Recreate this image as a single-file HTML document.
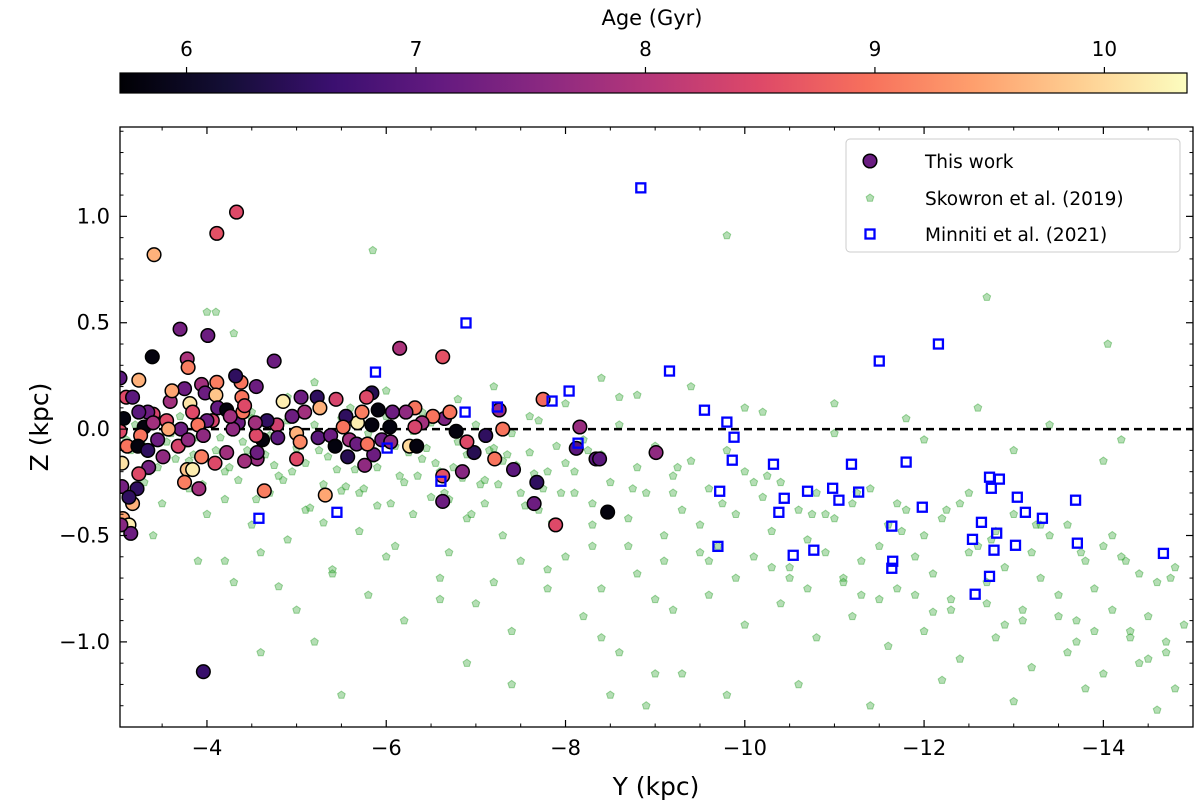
<!DOCTYPE html>
<html><head><meta charset="utf-8">
<style>
html,body{margin:0;padding:0;background:#fff;}
svg{display:block;font-family:"DejaVu Sans","Liberation Sans",sans-serif;}
</style></head>
<body>
<svg id="chart" width="1200" height="809" viewBox="0 0 1200 809" xmlns="http://www.w3.org/2000/svg">
<defs>
<linearGradient id="magma" x1="0" x2="1" y1="0" y2="0">
<stop offset="0" stop-color="#000004"/><stop offset="0.1" stop-color="#140e36"/><stop offset="0.2" stop-color="#3b0f70"/><stop offset="0.3" stop-color="#641a80"/><stop offset="0.4" stop-color="#8c2981"/><stop offset="0.5" stop-color="#b73779"/><stop offset="0.6" stop-color="#de4968"/><stop offset="0.7" stop-color="#f7705c"/><stop offset="0.8" stop-color="#fe9f6d"/><stop offset="0.9" stop-color="#fecf92"/><stop offset="1" stop-color="#fcfdbf"/>
</linearGradient>
<clipPath id="plotclip"><rect x="120" y="127" width="1073" height="600"/></clipPath>
</defs>
<g id="cbar"></g>
<g id="plot"></g>
<g id="axes"></g>
<g id="legend"></g>
</svg>
<script>
const ageTicks=[6,7,8,9,10];
const xTicks=[-4,-6,-8,-10,-12,-14];
const yTicks=[1.0,0.5,0.0,-0.5,-1.0];
const yTickLabels=["1.0","0.5","0.0","\u22120.5","\u22121.0"];
const xTickLabels=["\u22124","\u22126","\u22128","\u221210","\u221212","\u221214"];

const mnY=[-8.84,-9.16,-9.55,-9.80,-9.88,-9.86,-9.72,-9.70,-10.32,-10.44,-10.38,-10.70,-10.54,-10.77,-10.98,-11.05,-11.19,-11.27,-11.50,-11.80,-11.98,-11.64,-11.65,-11.64,-12.16,-12.73,-12.84,-12.75,-13.04,-13.13,-13.32,-13.69,-13.71,-14.67,-12.64,-12.54,-12.81,-12.78,-13.02,-12.73,-12.57,-6.89,-5.88,-6.88,-7.24,-7.85,-8.04,-8.14,-4.58,-5.45,-6.61,-6.01];
const mnZ=[1.134,0.273,0.089,0.033,-0.038,-0.146,-0.292,-0.551,-0.165,-0.325,-0.391,-0.292,-0.593,-0.569,-0.278,-0.334,-0.165,-0.296,0.32,-0.155,-0.367,-0.456,-0.621,-0.654,0.40,-0.226,-0.235,-0.278,-0.32,-0.391,-0.419,-0.334,-0.536,-0.584,-0.438,-0.518,-0.489,-0.569,-0.546,-0.692,-0.776,0.499,0.268,0.08,0.104,0.132,0.179,-0.066,-0.419,-0.391,-0.245,-0.089];

const twY=[-3.41,-4.11,-4.33,-3.70,-4.01,-3.39,-3.78,-3.79,-4.75,-6.15,-6.63,-7.75,-8.16,-8.12,-8.34,-7.89,-7.65,-7.68,-7.42,-7.21,-6.98,-7.11,-7.26,-7.30,-6.85,-6.63,-6.63,-6.90,-6.78,-6.65,-6.52,-6.71,-6.40,-6.32,-6.32,-6.22,-6.07,-6.04,-5.91,-5.84,-5.78,-5.84,-5.68,-5.73,-5.55,-5.44,-5.23,-5.05,-4.85,-5.26,-5.09,-4.95,-4.78,-5.00,-5.04,-5.24,-5.38,-5.52,-5.59,-5.67,-5.43,-5.57,-5.76,-5.86,-5.79,-5.95,-6.05,-6.26,-6.34,-5.00,-4.64,-5.32,-4.56,-4.42,-4.56,-4.62,-4.55,-4.67,-4.79,-4.54,-4.35,-4.29,-4.40,-4.39,-4.42,-4.38,-4.32,-4.55,-4.11,-3.94,-3.98,-4.10,-3.75,-3.59,-3.61,-3.81,-3.84,-4.12,-4.22,-4.26,-4.06,-4.00,-3.90,-3.71,-3.55,-3.40,-3.34,-3.24,-3.24,-3.10,-3.17,-3.03,-3.07,-3.30,-3.40,-3.57,-3.45,-3.26,-3.03,-3.11,-3.23,-3.34,-3.51,-3.68,-3.79,-3.96,-3.78,-3.84,-3.94,-4.09,-4.22,-3.75,-3.91,-3.35,-3.24,-3.05,-3.22,-3.05,-3.17,-3.13,-3.06,-3.13,-3.15,-3.04,-3.96,-8.47,-9.01,-8.38];
const twZ=[0.82,0.92,1.02,0.47,0.44,0.34,0.33,0.29,0.32,0.38,0.34,0.14,0.01,-0.09,-0.14,-0.45,-0.35,-0.25,-0.19,-0.14,-0.11,-0.03,0.09,0.00,-0.20,-0.34,-0.22,-0.06,-0.01,0.05,0.06,0.08,0.03,0.01,0.10,0.08,0.08,0.01,0.09,0.17,0.15,0.02,0.03,0.08,0.06,0.14,0.15,0.15,0.13,0.10,0.08,0.06,0.02,-0.02,-0.06,-0.04,-0.03,0.01,-0.05,-0.07,-0.08,-0.13,-0.17,-0.12,-0.07,-0.05,-0.06,-0.08,-0.08,-0.14,-0.29,-0.31,-0.14,-0.15,-0.11,-0.05,-0.03,0.04,-0.04,0.03,0.03,0.00,0.08,0.15,0.11,0.22,0.25,0.20,0.22,0.21,0.17,0.16,0.19,0.13,0.18,0.12,0.08,0.10,0.09,0.06,0.04,0.04,0.02,0.00,0.04,0.07,0.08,0.08,0.23,0.15,0.15,0.24,0.05,0.01,0.03,0.00,-0.05,-0.03,-0.01,-0.08,-0.08,-0.10,-0.13,-0.08,-0.05,-0.03,-0.19,-0.19,-0.13,-0.16,-0.11,-0.25,-0.28,-0.18,-0.21,-0.16,-0.28,-0.27,-0.35,-0.32,-0.42,-0.45,-0.49,-0.45,-1.14,-0.39,-0.11,-0.14];
const twAge=[9.6,8.6,8.5,7.3,7.2,5.8,7.9,9.1,7.2,7.9,8.6,8.9,7.7,7.0,7.0,8.5,7.2,6.5,7.0,9.0,6.4,6.5,7.7,9.0,7.5,7.2,8.6,8.5,5.8,7.4,9.0,9.0,7.8,8.4,9.0,7.6,7.2,5.8,5.8,6.4,8.5,5.8,10.2,9.1,6.5,8.4,6.5,7.2,10.2,9.6,7.8,7.2,8.3,9.6,9.2,7.0,7.2,9.0,7.8,7.2,5.8,6.4,7.6,7.2,9.0,7.2,7.6,10.0,5.8,8.5,9.1,9.5,7.7,7.8,7.2,5.8,8.5,6.5,7.0,7.8,7.2,7.6,9.0,9.0,8.5,9.0,6.5,7.2,9.1,7.8,7.2,9.8,7.2,7.8,9.5,10.1,8.5,7.1,5.8,7.8,8.4,7.2,9.0,7.2,8.5,8.4,7.2,7.0,9.6,8.5,7.0,7.0,5.8,5.8,7.8,9.5,7.2,9.0,8.5,9.0,5.8,6.5,7.6,8.4,7.6,7.6,9.8,10.2,9.1,8.5,7.8,9.1,7.8,7.3,8.5,10.1,6.5,7.3,9.6,6.5,9.5,10.2,7.2,7.5,6.6,5.8,7.6,7.0];

const skY=[-3.1,-3.2,-3.3,-3.4,-3.5,-3.6,-3.7,-3.8,-3.9,-4.0,-4.1,-4.2,-4.3,-4.4,-4.5,-4.6,-4.7,-4.8,-4.9,-5.0,-5.1,-5.2,-5.3,-5.4,-5.5,-5.6,-5.7,-5.8,-5.9,-6.0,-6.1,-6.2,-6.3,-6.4,-6.5,-6.6,-6.7,-6.8,-6.9,-7.0,-7.1,-7.2,-7.3,-7.4,-7.5,-7.6,-7.7,-7.8,-7.9,-8.0,
-3.3,-3.5,-3.8,-4.0,-4.2,-4.5,-4.7,-4.9,-5.1,-5.3,-5.5,-5.7,-5.9,-6.1,-6.3,-6.5,-6.7,-6.9,-7.1,-7.3,-7.5,-7.7,-7.9,-8.1,-8.3,
-3.4,-3.9,-4.3,-4.6,-5.0,-5.4,-5.8,-6.2,-6.6,-7.0,-7.4,-7.8,-8.2,-8.6,-9.0,
-3.6,-4.1,-4.5,-4.9,-5.2,-5.6,-6.0,-6.4,-6.8,-7.2,-7.6,-8.0,-8.4,-8.8,
-4.0,-4.1,-5.85,-9.8,-12.7,-14.05,-4.3,-4.6,-5.2,-5.5,-6.9,-7.4,-8.5,-8.9,-9.3,
-8.1,-8.3,-8.5,-8.7,-8.9,-9.1,-9.3,-9.5,-9.7,-9.9,-10.1,-10.3,-10.5,-10.7,-10.9,-11.1,-11.3,-11.5,-11.7,-11.9,-12.1,-12.3,-12.5,-12.7,-12.9,-13.1,-13.3,-13.5,-13.7,-13.9,-14.1,-14.3,-14.5,-14.7,-14.9,
-8.2,-8.4,-8.6,-8.8,-9.0,-9.2,-9.4,-9.6,-9.8,-10.0,-10.2,-10.4,-10.6,-10.8,-11.0,-11.2,-11.4,-11.6,-11.8,-12.0,-12.2,-12.4,-12.6,-12.8,-13.0,-13.2,-13.4,-13.6,-13.8,-14.0,-14.2,-14.4,-14.6,-14.8,
-8.0,-8.4,-8.8,-9.2,-9.6,-10.0,-10.4,-10.8,-11.2,-11.6,-12.0,-12.4,-12.8,-13.2,-13.6,-14.0,-14.4,-14.8,
-8.3,-8.7,-9.1,-9.5,-9.9,-10.3,-10.7,-11.1,-11.5,-11.9,-12.3,-12.7,-13.1,-13.5,-13.9,-14.3,-14.7,
-8.6,-9.4,-10.2,-11.0,-11.8,-12.6,-13.4,-14.2,-9.0,-9.8,-10.6,-11.4,-12.2,-13.0,-13.8,-14.6,
-8.25,-8.75,-9.25,-9.75,-10.25,-10.75,-11.25,-11.75,-12.25,-12.75,-13.25,-13.75,-14.25,-14.75,
-3.15,-3.45,-3.75,-4.05,-4.35,-4.65,-4.95,-5.25,-5.55,-5.85,-6.15,-6.45,-6.75,-7.05,-7.35,-7.65,-7.95,
-3.25,-3.55,-3.85,-4.15,-4.45,-4.75,-5.05,-5.35,-5.65,-5.95,-6.25,-6.55,-6.85,-7.15,-7.45,-7.75,
-3.35,-3.65,-3.95,-4.25,-4.55,-4.85,-5.15,-5.45,-5.75,-6.05,-6.35,-6.65,-6.95,-7.25,-7.55,-7.85,
-4.2,-4.8,-5.4,-6.0,-6.6,-7.2,-7.8,-8.4,-9.2,-10.1,-10.9,-11.7,-12.5,-13.3,-14.1,
-9.6,-10.5,-11.3,-12.1,-12.9,-13.7,-14.5,-10.0,-11.0,-12.0,-13.0,-14.0];
const skZ=[-0.05,0.02,-0.08,0.05,-0.12,-0.02,0.06,-0.15,-0.04,0.03,-0.10,-0.20,0.00,-0.06,0.08,-0.14,-0.03,-0.22,0.04,-0.09,-0.16,0.02,-0.26,-0.07,0.05,-0.12,-0.30,-0.02,-0.18,0.06,-0.08,-0.25,-0.01,-0.14,0.03,-0.20,-0.33,-0.06,-0.12,0.02,-0.24,-0.09,-0.15,-0.02,-0.30,-0.11,0.04,-0.20,-0.08,-0.16,
-0.25,-0.35,-0.28,-0.40,-0.33,-0.45,-0.30,-0.52,-0.38,-0.44,-0.29,-0.48,-0.36,-0.55,-0.40,-0.32,-0.58,-0.42,-0.35,-0.50,-0.62,-0.38,-0.45,-0.30,-0.55,
-0.50,-0.62,-0.72,-0.58,-0.85,-0.66,-0.78,-0.90,-0.70,-0.82,-0.95,-0.75,-0.88,-1.05,-0.80,
0.12,0.20,0.05,0.15,0.22,0.10,0.18,0.08,0.14,0.20,0.06,0.12,0.24,0.16,
0.55,0.55,0.84,0.91,0.62,0.40,0.45,-1.05,-1.0,-1.25,-1.10,-1.20,-1.25,-1.30,-1.15,
-0.20,-0.35,-0.25,-0.42,-0.30,-0.50,-0.38,-0.45,-0.55,-0.40,-0.60,-0.48,-0.65,-0.52,-0.58,-0.70,-0.62,-0.55,-0.75,-0.60,-0.68,-0.80,-0.58,-0.72,-0.65,-0.85,-0.70,-0.78,-0.90,-0.75,-0.85,-0.95,-0.88,-1.00,-0.92,
-0.05,-0.12,0.02,-0.18,-0.08,-0.22,-0.15,-0.28,-0.10,-0.20,-0.32,-0.25,-0.38,-0.30,-0.42,-0.35,-0.28,-0.45,-0.38,-0.50,-0.42,-0.35,-0.55,-0.48,-0.40,-0.58,-0.50,-0.45,-0.62,-0.55,-0.60,-0.68,-0.72,-0.65,
-0.60,-0.75,-0.68,-0.85,-0.78,-0.92,-0.82,-0.98,-0.88,-1.02,-0.95,-1.08,-0.98,-1.12,-1.05,-1.15,-1.10,-1.22,
-0.45,-0.55,-0.62,-0.58,-0.70,-0.65,-0.75,-0.72,-0.80,-0.78,-0.85,-0.82,-0.90,-0.88,-0.95,-0.98,-1.05,
0.15,0.20,0.08,0.12,0.05,0.10,0.02,-0.05,-1.15,-1.25,-1.20,-1.30,-1.18,-1.28,-1.22,-1.32,
-0.10,-0.28,-0.18,-0.35,-0.22,-0.40,-0.30,-0.48,-0.38,-0.52,-0.45,-0.58,-0.62,-0.70,
-0.10,-0.18,-0.07,-0.16,-0.24,-0.12,-0.20,-0.10,-0.27,-0.14,-0.22,-0.09,-0.18,-0.26,-0.12,-0.21,-0.30,
0.00,-0.06,-0.12,-0.04,-0.10,-0.17,-0.08,-0.13,-0.19,-0.05,-0.11,-0.16,-0.23,-0.10,-0.17,-0.28,
-0.20,-0.14,-0.26,-0.18,-0.33,-0.24,-0.37,-0.19,-0.28,-0.35,-0.22,-0.30,-0.40,-0.26,-0.36,-0.44,
-0.62,-0.74,-0.68,-0.60,-0.80,-0.72,-0.66,-0.98,-0.30,-0.25,-0.40,-0.35,-0.30,-0.45,-0.50,
-0.62,-0.70,-0.78,-0.86,-0.92,-1.00,-1.08,0.10,-0.02,-0.05,-0.10,-0.15];

const NS='http://www.w3.org/2000/svg';
const L=120,R=1193,T=127,B=727;
const xDom=[-3.03,-15.0], yDom=[1.42,-1.40];
function sx(v){return L+(v-xDom[0])/(xDom[1]-xDom[0])*(R-L);}
function sy(v){return T+(v-yDom[0])/(yDom[1]-yDom[0])*(B-T);}
const CL=120,CR=1187,CT=73,CB=93, aDom=[5.71,10.36];
function sa(v){return CL+(v-aDom[0])/(aDom[1]-aDom[0])*(CR-CL);}
const stops=[[0,0,0,4],[0.1,20,14,54],[0.2,59,15,112],[0.3,100,26,128],[0.4,140,41,129],[0.5,183,55,121],[0.6,222,73,104],[0.7,247,112,92],[0.8,254,159,109],[0.9,254,207,146],[1,252,253,191]];
function magma(a){let t=Math.max(0,Math.min(1,(a-aDom[0])/(aDom[1]-aDom[0])));
 for(let i=1;i<stops.length;i++){if(t<=stops[i][0]){const p=stops[i-1],q=stops[i],f=(t-p[0])/(q[0]-p[0]);
 return 'rgb('+[1,2,3].map(k=>Math.round(p[k]+(q[k]-p[k])*f)).join(',')+')';}} return 'rgb(252,253,191)';}
function mk(tag,attrs,parent){const e=document.createElementNS(NS,tag);for(const k in attrs)e.setAttribute(k,attrs[k]);parent.appendChild(e);return e;}
function pent(cx,cy,r){let p=[];for(let i=0;i<5;i++){const a=-Math.PI/2+i*2*Math.PI/5;p.push((cx+r*Math.cos(a)).toFixed(1)+','+(cy+r*Math.sin(a)).toFixed(1));}return p.join(' ');}

const cb=document.getElementById('cbar');
const cbr=mk('rect',{x:CL,y:CT,width:CR-CL,height:CB-CT,fill:'url(#magma)',stroke:'#000','stroke-width':1.2},cb);


ageTicks.forEach(a=>{const x=sa(a);
 mk('line',{x1:x,x2:x,y1:CT,y2:CT-6,stroke:'#000','stroke-width':1.2},cb);
 const t=mk('text',{x:x,y:56,'font-size':20,'text-anchor':'middle',fill:'#000'},cb);t.textContent=a;
 
 
});
const ct=mk('text',{x:652,y:25,'font-size':21,'text-anchor':'middle',fill:'#000'},cb);ct.textContent='Age (Gyr)';



const pl=document.getElementById('plot');
const g=mk('g',{'clip-path':'url(#plotclip)'},pl);
for(let i=0;i<skY.length;i++){
 const p=mk('polygon',{points:pent(sx(skY[i]),sy(skZ[i]),4),fill:'rgba(44,160,44,0.35)',stroke:'rgba(44,160,44,0.45)','stroke-width':1},g);
 
 
}
const dl=mk('line',{x1:L,x2:R,y1:sy(0),y2:sy(0),stroke:'#000','stroke-width':2.4,'stroke-dasharray':'8,5'},g);


for(let i=0;i<twY.length;i++){
 const c=mk('circle',{cx:sx(twY[i]),cy:sy(twZ[i]),r:6.8,fill:magma(twAge[i]),stroke:'#000','stroke-width':1.5},g);
 
 
}
for(let i=0;i<mnY.length;i++){
 const s=mk('rect',{x:sx(mnY[i])-4.5,y:sy(mnZ[i])-4.5,width:9,height:9,fill:'none',stroke:'#0000ff','stroke-width':2.3},g);
 
 
}

const ax=document.getElementById('axes');
const fr=mk('rect',{x:L,y:T,width:R-L,height:B-T,fill:'none',stroke:'#000','stroke-width':1.3},ax);


xTicks.forEach((v,i)=>{const x=sx(v);
 mk('line',{x1:x,x2:x,y1:B,y2:B-7,stroke:'#000','stroke-width':1.2},ax);
 mk('line',{x1:x,x2:x,y1:T,y2:T+7,stroke:'#000','stroke-width':1.2},ax);
 const t=mk('text',{x:x,y:B+28,'font-size':21,'text-anchor':'middle',fill:'#000'},ax);t.textContent=xTickLabels[i];
 
 
});
for(let v=-3.5;v>=-15;v-=0.5){if(Math.abs(v-Math.round(v))<0.01&&Math.round(v)%2===0)continue;const x=sx(v);
 mk('line',{x1:x,x2:x,y1:B,y2:B-3.5,stroke:'#000','stroke-width':1},ax);
 mk('line',{x1:x,x2:x,y1:T,y2:T+3.5,stroke:'#000','stroke-width':1},ax);}
yTicks.forEach((v,i)=>{const y=sy(v);
 mk('line',{x1:L,x2:L+7,y1:y,y2:y,stroke:'#000','stroke-width':1.2},ax);
 mk('line',{x1:R,x2:R-7,y1:y,y2:y,stroke:'#000','stroke-width':1.2},ax);
 const t=mk('text',{x:L-10,y:y+7,'font-size':21,'text-anchor':'end',fill:'#000'},ax);t.textContent=yTickLabels[i];
 
 
});
for(let k=-14;k<=14;k++){if(k%5===0)continue;const y=sy(k/10);
 mk('line',{x1:L,x2:L+3.5,y1:y,y2:y,stroke:'#000','stroke-width':1},ax);
 mk('line',{x1:R,x2:R-3.5,y1:y,y2:y,stroke:'#000','stroke-width':1},ax);}
const xl=mk('text',{x:656,y:795,'font-size':25,'text-anchor':'middle',fill:'#000'},ax);xl.textContent='Y (kpc)';


const yl=mk('text',{x:0,y:0,'font-size':25,'text-anchor':'middle',fill:'#000',transform:'translate(48,427) rotate(-90)'},ax);yl.textContent='Z (kpc)';



const lg=document.getElementById('legend');
const lb=mk('rect',{x:846,y:139,width:334,height:113,rx:4,fill:'#fff','fill-opacity':0.85,stroke:'#ccc','stroke-width':1},lg);


const e1=mk('circle',{cx:870,cy:161,r:6.8,fill:'#6a1c81',stroke:'#000','stroke-width':1.5},lg);


mk('polygon',{points:pent(870,198,4),fill:'rgba(44,160,44,0.35)',stroke:'rgba(44,160,44,0.45)'},lg);
mk('rect',{x:865.5,y:229.5,width:9,height:9,fill:'none',stroke:'#0000ff','stroke-width':2.3},lg);
[['This work',168],['Skowron et al. (2019)',205],['Minniti et al. (2021)',241]].forEach(d=>{
 const t=mk('text',{x:925,y:d[1],'font-size':18.5,fill:'#000'},lg);t.textContent=d[0];
 
 
});
</script>
</body></html>
